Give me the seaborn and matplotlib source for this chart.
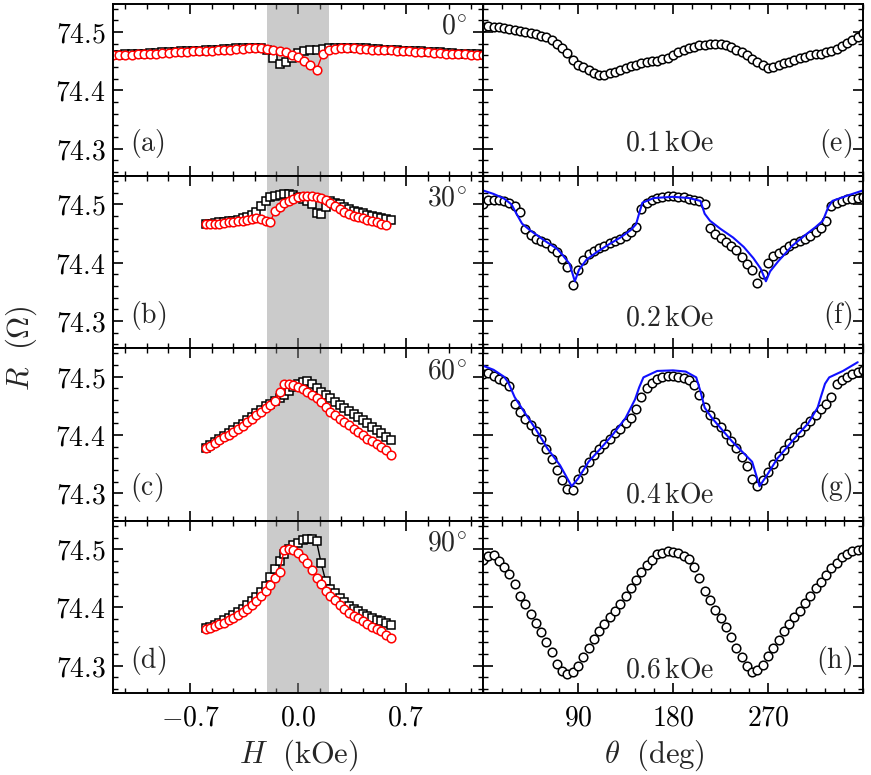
import numpy as np
import pandas as pd
import matplotlib
matplotlib.use("Agg")
import matplotlib.pyplot as plt
from matplotlib.ticker import FixedLocator, MultipleLocator, FuncFormatter
import seaborn as sns

# ---------------- data ----------------
H_a = [round(-1.2 + 0.04 * i, 2) for i in range(61)]
R_a_red = [74.460, 74.460, 74.461, 74.461, 74.462, 74.462, 74.463, 74.463, 74.464, 74.464,
           74.465, 74.466, 74.466, 74.467, 74.467, 74.468, 74.468, 74.469, 74.470, 74.470,
           74.471, 74.471, 74.472, 74.472, 74.472, 74.471, 74.470, 74.468, 74.465, 74.461,
           74.457, 74.450, 74.443, 74.435, 74.462, 74.469, 74.471, 74.472, 74.472, 74.472,
           74.471, 74.471, 74.470, 74.470, 74.469, 74.469, 74.468, 74.467, 74.467, 74.466,
           74.466, 74.465, 74.464, 74.464, 74.463, 74.463, 74.462, 74.462, 74.461, 74.461,
           74.460]
R_a_blk = [74.461, 74.461, 74.462, 74.462, 74.463, 74.463, 74.464, 74.464, 74.465, 74.465,
           74.466, 74.467, 74.467, 74.468, 74.468, 74.469, 74.469, 74.470, 74.471, 74.471,
           74.472, 74.472, 74.473, 74.473, 74.472, 74.470, 74.455, 74.445, 74.448, 74.456,
           74.464, 74.467, 74.469, 74.470, 74.471, 74.472, 74.472, 74.473, 74.473, 74.473,
           74.472, 74.472, 74.471, 74.471, 74.470, 74.470, 74.469, 74.468, 74.468, 74.467,
           74.467, 74.466, 74.465, 74.465, 74.464, 74.464, 74.463, 74.463, 74.462, 74.462,
           74.461]

H_bcd = [round(-0.6 + 0.03 * i, 2) for i in range(41)]
R_b_red = [74.466, 74.466, 74.467, 74.467, 74.468, 74.469, 74.470, 74.471, 74.472, 74.474,
           74.475, 74.476, 74.475, 74.472, 74.470, 74.488, 74.496, 74.502, 74.506, 74.509,
           74.512, 74.514, 74.515, 74.515, 74.513, 74.511, 74.508, 74.503, 74.498, 74.492,
           74.487, 74.483, 74.480, 74.478, 74.476, 74.474, 74.472, 74.469, 74.467, 74.464]
R_b_blk = [74.467, 74.467, 74.468, 74.469, 74.470, 74.471, 74.472, 74.474, 74.476, 74.478,
           74.481, 74.487, 74.497, 74.506, 74.512, 74.515, 74.517, 74.518, 74.518, 74.516,
           74.513, 74.509, 74.505, 74.501, 74.485, 74.484, 74.495, 74.505, 74.503, 74.500,
           74.496, 74.492, 74.489, 74.487, 74.485, 74.482, 74.480, 74.478, 74.476, 74.475,
           74.473]
R_c_red = [74.377, 74.382, 74.387, 74.392, 74.396, 74.400, 74.405, 74.410, 74.416, 74.422,
           74.428, 74.434, 74.440, 74.446, 74.451, 74.458, 74.474, 74.487, 74.487, 74.486,
           74.483, 74.479, 74.474, 74.469, 74.463, 74.456, 74.448, 74.440, 74.434, 74.428,
           74.422, 74.417, 74.411, 74.405, 74.400, 74.394, 74.389, 74.384, 74.380, 74.375,
           74.365]
R_c_blk = [74.378, 74.383, 74.388, 74.393, 74.398, 74.403, 74.408, 74.413, 74.419, 74.425,
           74.431, 74.437, 74.443, 74.449, 74.454, 74.459, 74.464, 74.469, 74.475, 74.482,
           74.488, 74.491, 74.492, 74.488, 74.481, 74.474, 74.468, 74.463, 74.457, 74.451,
           74.446, 74.441, 74.436, 74.431, 74.425, 74.420, 74.414, 74.408, 74.403, 74.397,
           74.391]
R_d_red = [74.363, 74.365, 74.368, 74.371, 74.374, 74.378, 74.382, 74.387, 74.392, 74.398,
           74.404, 74.411, 74.419, 74.428, 74.438, 74.450, 74.461, 74.499, 74.501, 74.499,
           74.493, 74.485, 74.476, 74.464, 74.451, 74.440, 74.429, 74.420, 74.412, 74.404,
           74.397, 74.391, 74.386, 74.381, 74.376, 74.372, 74.367, 74.363, 74.359, 74.353,
           74.347]
R_d_blk = [74.364, 74.367, 74.370, 74.374, 74.378, 74.382, 74.387, 74.392, 74.398, 74.404,
           74.411, 74.418, 74.427, 74.437, 74.452, 74.466, 74.479, 74.491, 74.500, 74.507,
           74.511, 74.515, 74.518, 74.518, 74.514, 74.476, 74.445, 74.432, 74.424, 74.416,
           74.409, 74.403, 74.398, 74.393, 74.389, 74.385, 74.382, 74.379, 74.376, 74.373,
           74.370]

theta = list(range(0, 361, 5))
R_e = [74.509, 74.510, 74.509, 74.508, 74.507, 74.505, 74.504, 74.502, 74.500, 74.498,
       74.496, 74.494, 74.492, 74.487, 74.480, 74.472, 74.464, 74.452, 74.444, 74.440,
       74.434, 74.430, 74.427, 74.426, 74.429, 74.431, 74.434, 74.438, 74.442, 74.444,
       74.446, 74.448, 74.450, 74.451, 74.453, 74.456, 74.460, 74.465, 74.469, 74.472,
       74.475, 74.477, 74.478, 74.479, 74.479, 74.479, 74.478, 74.475, 74.470, 74.465,
       74.460, 74.454, 74.448, 74.443, 74.439, 74.440, 74.444, 74.446, 74.449, 74.452,
       74.455, 74.457, 74.460, 74.462, 74.463, 74.465, 74.468, 74.471, 74.476, 74.482,
       74.487, 74.492, 74.498]
R_f = [74.501, 74.508, 74.508, 74.507, 74.506, 74.503, 74.497, 74.487, 74.457, 74.447,
       74.441, 74.437, 74.433, 74.426, 74.418, 74.407, 74.393, 74.362, 74.388, 74.405,
       74.414, 74.420, 74.425, 74.429, 74.433, 74.437, 74.441, 74.445, 74.452, 74.462,
       74.492, 74.503, 74.508, 74.511, 74.513, 74.515, 74.514, 74.513, 74.512, 74.510,
       74.508, 74.505, 74.500, 74.460, 74.449, 74.443, 74.436, 74.429, 74.421, 74.409,
       74.398, 74.388, 74.365, 74.381, 74.400, 74.411, 74.417, 74.422, 74.428, 74.433,
       74.437, 74.441, 74.446, 74.452, 74.460, 74.472, 74.497, 74.503, 74.506, 74.509,
       74.510, 74.511, 74.512]
R_g = [74.505, 74.506, 74.502, 74.497, 74.492, 74.484, 74.454, 74.440, 74.428, 74.418,
       74.407, 74.393, 74.376, 74.358, 74.340, 74.322, 74.308, 74.306, 74.325, 74.340,
       74.353, 74.365, 74.376, 74.385, 74.394, 74.403, 74.411, 74.420, 74.430, 74.445,
       74.466, 74.480, 74.490, 74.496, 74.500, 74.501, 74.501, 74.500, 74.498, 74.494,
       74.486, 74.468, 74.448, 74.434, 74.423, 74.413, 74.401, 74.389, 74.377, 74.362,
       74.346, 74.325, 74.313, 74.323, 74.337, 74.350, 74.364, 74.375, 74.386, 74.396,
       74.405, 74.415, 74.424, 74.434, 74.444, 74.454, 74.466, 74.487, 74.495, 74.500,
       74.505, 74.508, 74.511]
R_h = [74.482, 74.489, 74.490, 74.479, 74.469, 74.457, 74.440, 74.419, 74.405, 74.389,
       74.373, 74.357, 74.340, 74.323, 74.303, 74.290, 74.285, 74.289, 74.299, 74.315,
       74.330, 74.346, 74.360, 74.372, 74.383, 74.394, 74.406, 74.419, 74.433, 74.447,
       74.460, 74.472, 74.482, 74.492, 74.493, 74.496, 74.495, 74.493, 74.489, 74.483,
       74.469, 74.450, 74.429, 74.412, 74.396, 74.382, 74.367, 74.350, 74.331, 74.314,
       74.299, 74.289, 74.292, 74.301, 74.317, 74.331, 74.344, 74.360, 74.371, 74.383,
       74.394, 74.408, 74.419, 74.433, 74.444, 74.456, 74.468, 74.477, 74.486, 74.492,
       74.496, 74.499, 74.501]

theta_fit_f = [0, 10, 20, 27, 32, 37, 45, 59, 70, 75, 82, 87, 91, 98, 107, 118, 130, 140, 145,
               148, 151, 162, 180, 195, 206, 210, 215, 225, 237, 247, 256, 263, 268, 272, 280,
               293, 305, 315, 322, 327, 331, 345, 360]
R_fit_f = [74.524, 74.518, 74.510, 74.500, 74.483, 74.467, 74.455, 74.437, 74.424, 74.414,
           74.398, 74.368, 74.388, 74.405, 74.417, 74.430, 74.443, 74.456, 74.466, 74.485,
           74.503, 74.511, 74.513, 74.511, 74.506, 74.484, 74.472, 74.458, 74.443, 74.427,
           74.408, 74.390, 74.368, 74.385, 74.403, 74.429, 74.447, 74.461, 74.472, 74.495,
           74.506, 74.515, 74.524]
theta_fit_g = [0, 10, 20, 24, 30, 40, 50, 61, 73, 84, 90, 100, 112, 123, 135, 144, 148, 152,
               165, 180, 192, 202, 206, 210, 217, 236, 255, 262, 269, 279, 297, 308, 317, 320,
               324, 328, 341, 355]
R_fit_g = [74.519, 74.512, 74.500, 74.490, 74.465, 74.437, 74.410, 74.377, 74.348, 74.312,
           74.325, 74.354, 74.378, 74.401, 74.429, 74.461, 74.482, 74.499, 74.510, 74.511,
           74.509, 74.499, 74.475, 74.447, 74.429, 74.389, 74.354, 74.312, 74.331, 74.360,
           74.398, 74.420, 74.447, 74.465, 74.488, 74.499, 74.510, 74.525]

angle_labels = [r"$0^{\circ}$", r"$30^{\circ}$", r"$60^{\circ}$", r"$90^{\circ}$"]
field_labels = [r"$0.1\,\mathrm{kOe}$", r"$0.2\,\mathrm{kOe}$",
                r"$0.4\,\mathrm{kOe}$", r"$0.6\,\mathrm{kOe}$"]
left_tags = ["(a)", "(b)", "(c)", "(d)"]
right_tags = ["(e)", "(f)", "(g)", "(h)"]
H_ticks = [-0.7, 0.0, 0.7]
theta_ticks = [90, 180, 270]
R_ticks = [74.3, 74.4, 74.5]

left_data = [(H_a, R_a_blk, H_a, R_a_red),
             (H_bcd, R_b_blk, H_bcd[:40], R_b_red),
             (H_bcd, R_c_blk, H_bcd, R_c_red),
             (H_bcd, R_d_blk, H_bcd, R_d_red)]
right_data = [R_e, R_f, R_g, R_h]
fits = {1: (theta_fit_f, R_fit_f), 2: (theta_fit_g, R_fit_g)}

# ---------------- style ----------------
sns.set_theme(style="ticks")
plt.rcParams.update({
    "mathtext.fontset": "cm",
    "font.family": ["DejaVu Serif"],
    "axes.linewidth": 1.4,
    "xtick.direction": "in", "ytick.direction": "in",
    "xtick.top": True, "ytick.right": True,
    "xtick.major.size": 7, "ytick.major.size": 7,
    "xtick.minor.size": 3.5, "ytick.minor.size": 3.5,
    "xtick.major.width": 1.2, "ytick.major.width": 1.2,
    "xtick.minor.width": 1.0, "ytick.minor.width": 1.0,
    "xtick.color": "black", "ytick.color": "black",
    "axes.edgecolor": "black",
})

FS = 20
W, Hpx = 871, 775
fig = plt.figure(figsize=(W / 100, Hpx / 100), dpi=100)
gs = fig.add_gridspec(4, 2, left=113 / W, right=863 / W, top=1 - 3.5 / Hpx,
                      bottom=1 - 693 / Hpx, wspace=0, hspace=0, width_ratios=[370, 380])

mfmt = FuncFormatter(lambda v, p: r"$%s$" % f"{v:.1f}")
ifmt = FuncFormatter(lambda v, p: r"$%d$" % int(round(v)))

mk = dict(ms=6.2, mew=1.1, mfc="white")

for r in range(4):
    axL = fig.add_subplot(gs[r, 0])
    axR = fig.add_subplot(gs[r, 1], sharey=axL)
    hb, rb, hr, rr = left_data[r]
    axL.axvspan(-0.2, 0.2, color="0.55", alpha=0.45, lw=0, zorder=2)
    sns.lineplot(x=hb, y=rb, ax=axL, sort=False, estimator=None, color="black",
                 lw=1.0, marker="s", mec="black", zorder=3, **mk)
    sns.lineplot(x=hr, y=rr, ax=axL, sort=False, estimator=None, color="red",
                 lw=1.0, marker="o", mec="red", zorder=4, **mk)
    sns.lineplot(x=theta, y=right_data[r], ax=axR, sort=False, estimator=None,
                 lw=0, marker="o", mec="black", color="black", zorder=3, **mk)
    if r in fits:
        tf, rf = fits[r]
        sns.lineplot(x=tf, y=rf, ax=axR, sort=False, estimator=None, color="#1010ff",
                     lw=1.5, zorder=4)

    for ax in (axL, axR):
        ax.set_ylim(74.253, 74.549)
        ax.yaxis.set_major_locator(FixedLocator(R_ticks))
        ax.yaxis.set_minor_locator(MultipleLocator(0.02))
        ax.tick_params(which="both", direction="in", top=True, right=True,
                       bottom=True, left=True, labelsize=FS, pad=5)
        ax.set_xlabel("")
        ax.set_ylabel("")
        for s in ax.spines.values():
            s.set_linewidth(1.4)
            s.set_zorder(6)
    axL.set_xlim(-1.2, 1.2)
    axL.xaxis.set_major_locator(FixedLocator(H_ticks))
    axL.xaxis.set_minor_locator(MultipleLocator(0.14))
    axR.set_xlim(0, 360)
    axR.xaxis.set_major_locator(FixedLocator(theta_ticks))
    axR.xaxis.set_minor_locator(MultipleLocator(18))
    axL.yaxis.set_major_formatter(mfmt)
    axR.tick_params(labelleft=False)
    if r < 3:
        axL.tick_params(labelbottom=False)
        axR.tick_params(labelbottom=False)
    else:
        axL.xaxis.set_major_formatter(mfmt)
        axR.xaxis.set_major_formatter(ifmt)
        axL.tick_params(axis="x", pad=8)
        axR.tick_params(axis="x", pad=8)

    axL.text(0.045, 0.19, r"$\mathrm{%s}$" % left_tags[r], transform=axL.transAxes,
             fontsize=FS, ha="left", va="center")
    axL.text(0.955, 0.87, angle_labels[r], transform=axL.transAxes,
             fontsize=FS, ha="right", va="center")
    axR.text(0.972, 0.19, r"$\mathrm{%s}$" % right_tags[r], transform=axR.transAxes,
             fontsize=FS, ha="right", va="center")
    fy = [0.19, 0.175, 0.15, 0.135][r]
    axR.text(0.49, fy, field_labels[r], transform=axR.transAxes,
             fontsize=FS, ha="center", va="center")

fig.text(299 / W, 1 - 755 / Hpx, r"$H\ \ \mathrm{(kOe)}$", fontsize=FS + 2,
         ha="center", va="center")
fig.text(654 / W, 1 - 755 / Hpx, r"$\theta\ \ \mathrm{(deg)}$", fontsize=FS + 2,
         ha="center", va="center")
fig.text(21 / W, 1 - 348 / Hpx, r"$R\ \ (\Omega)$", fontsize=FS + 2,
         ha="center", va="center", rotation=90)

fig.savefig("out.png", dpi=100)
